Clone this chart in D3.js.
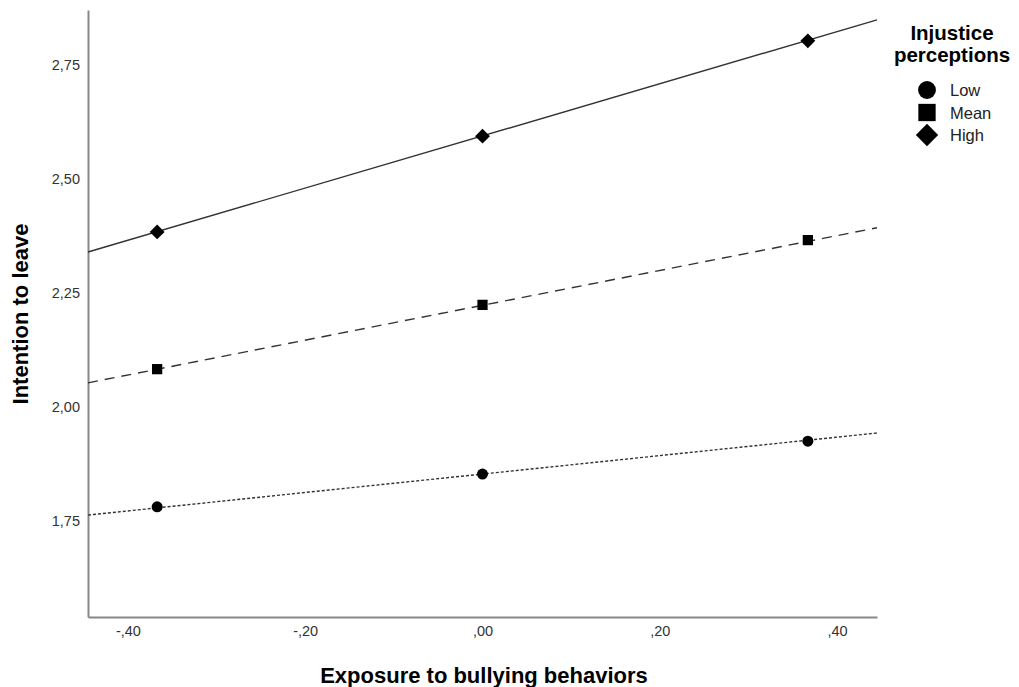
<!DOCTYPE html>
<html><head><meta charset="utf-8">
<script src="https://cdn.jsdelivr.net/npm/d3@7"></script>
<style>body{margin:0;background:#fff}svg{display:block}text{font-family:"Liberation Sans",Arial,sans-serif}</style>
</head><body><svg id="c" width="1019" height="687"></svg>
<script>
// Data
const xValues = [-0.367, 0.0, 0.367];
const seriesNames = ["Low", "Mean", "High"];
const lowValues = [1.781, 1.853, 1.925];
const meanValues = [2.083, 2.224, 2.366];
const highValues = [2.384, 2.594, 2.803];
// fitted line values at axis edges (x = -0.445 and 0.445)
const lineX = [-0.445, 0.445];
const lowLine = [1.763, 1.943];
const meanLine = [2.053, 2.393];
const highLine = [2.340, 2.849];
const xTicks = [-0.4, -0.2, 0.0, 0.2, 0.4];
const xTickLabels = ["-,40", "-,20", ",00", ",20", ",40"];
const yTicks = [1.75, 2.0, 2.25, 2.5, 2.75];
const yTickLabels = ["1,75", "2,00", "2,25", "2,50", "2,75"];

const svg = d3.select("#c");
const x = d3.scaleLinear().domain([-0.445, 0.445]).range([88, 877]);
const y = d3.scaleLinear().domain([1.5395, 2.8706]).range([617, 10]);

const series = [
  {name: "Low", vals: lowValues, line: lowLine, dash: "3,2", sym: d3.symbolCircle, size: 95, lsize: 250, rot: 0},
  {name: "Mean", vals: meanValues, line: meanLine, dash: "10,7", sym: d3.symbolSquare, size: 105, lsize: 300, rot: 0},
  {name: "High", vals: highValues, line: highLine, dash: null, sym: d3.symbolSquare, size: 110, lsize: 250, rot: 45}
];

// axes
const yAxis = d3.axisLeft(y).tickValues(yTicks).tickSize(0).tickPadding(8)
  .tickFormat((d, i) => yTickLabels[i]);
const gy = svg.append("g").attr("transform", "translate(88,0)").call(yAxis);
gy.select(".domain").attr("stroke", "#888").attr("stroke-width", 2);
gy.selectAll("text").attr("font-size", 14.5).attr("fill", "#333");

const xAxis = d3.axisBottom(x).tickValues(xTicks).tickSize(0).tickPadding(9)
  .tickFormat((d, i) => xTickLabels[i]);
const gx = svg.append("g").attr("transform", "translate(0,617)").call(xAxis);
gx.select(".domain").attr("stroke", "#888").attr("stroke-width", 2);
gx.selectAll("text").attr("font-size", 14.5).attr("fill", "#333");

// lines
const lineGen = d3.line().x(d => x(d[0])).y(d => y(d[1]));
series.forEach(s => {
  svg.append("path")
    .attr("d", lineGen(lineX.map((v, i) => [v, s.line[i]])))
    .attr("fill", "none").attr("stroke", "#333").attr("stroke-width", 1.4)
    .attr("stroke-dasharray", s.dash);
  svg.selectAll(null).data(xValues.map((v, i) => [v, s.vals[i]])).enter()
    .append("path")
    .attr("d", d3.symbol().type(s.sym).size(s.size))
    .attr("transform", d => `translate(${x(d[0])},${y(d[1])}) rotate(${s.rot})`)
    .attr("fill", "#000");
});

// axis titles
svg.append("text").attr("x", 484).attr("y", 683).attr("text-anchor", "middle")
  .attr("font-size", 22).attr("font-weight", "bold").attr("fill", "#000")
  .text("Exposure to bullying behaviors");
svg.append("text").attr("transform", "translate(28,314) rotate(-90)").attr("text-anchor", "middle")
  .attr("font-size", 22).attr("font-weight", "bold").attr("fill", "#000")
  .text("Intention to leave");

// legend
const lg = svg.append("g");
lg.append("text").attr("x", 952).attr("y", 40).attr("text-anchor", "middle")
  .attr("font-size", 20.5).attr("font-weight", "bold").text("Injustice");
lg.append("text").attr("x", 952).attr("y", 62).attr("text-anchor", "middle")
  .attr("font-size", 20.5).attr("font-weight", "bold").text("perceptions");
series.forEach((s, i) => {
  const cy = 90 + i * 22.5;
  lg.append("path").attr("d", d3.symbol().type(s.sym).size(s.lsize))
    .attr("transform", `translate(927,${cy}) rotate(${s.rot})`).attr("fill", "#000");
  lg.append("text").attr("x", 950).attr("y", cy + 6).attr("font-size", 16.5).attr("fill", "#222")
    .text(seriesNames[i]);
});
</script></body></html>
